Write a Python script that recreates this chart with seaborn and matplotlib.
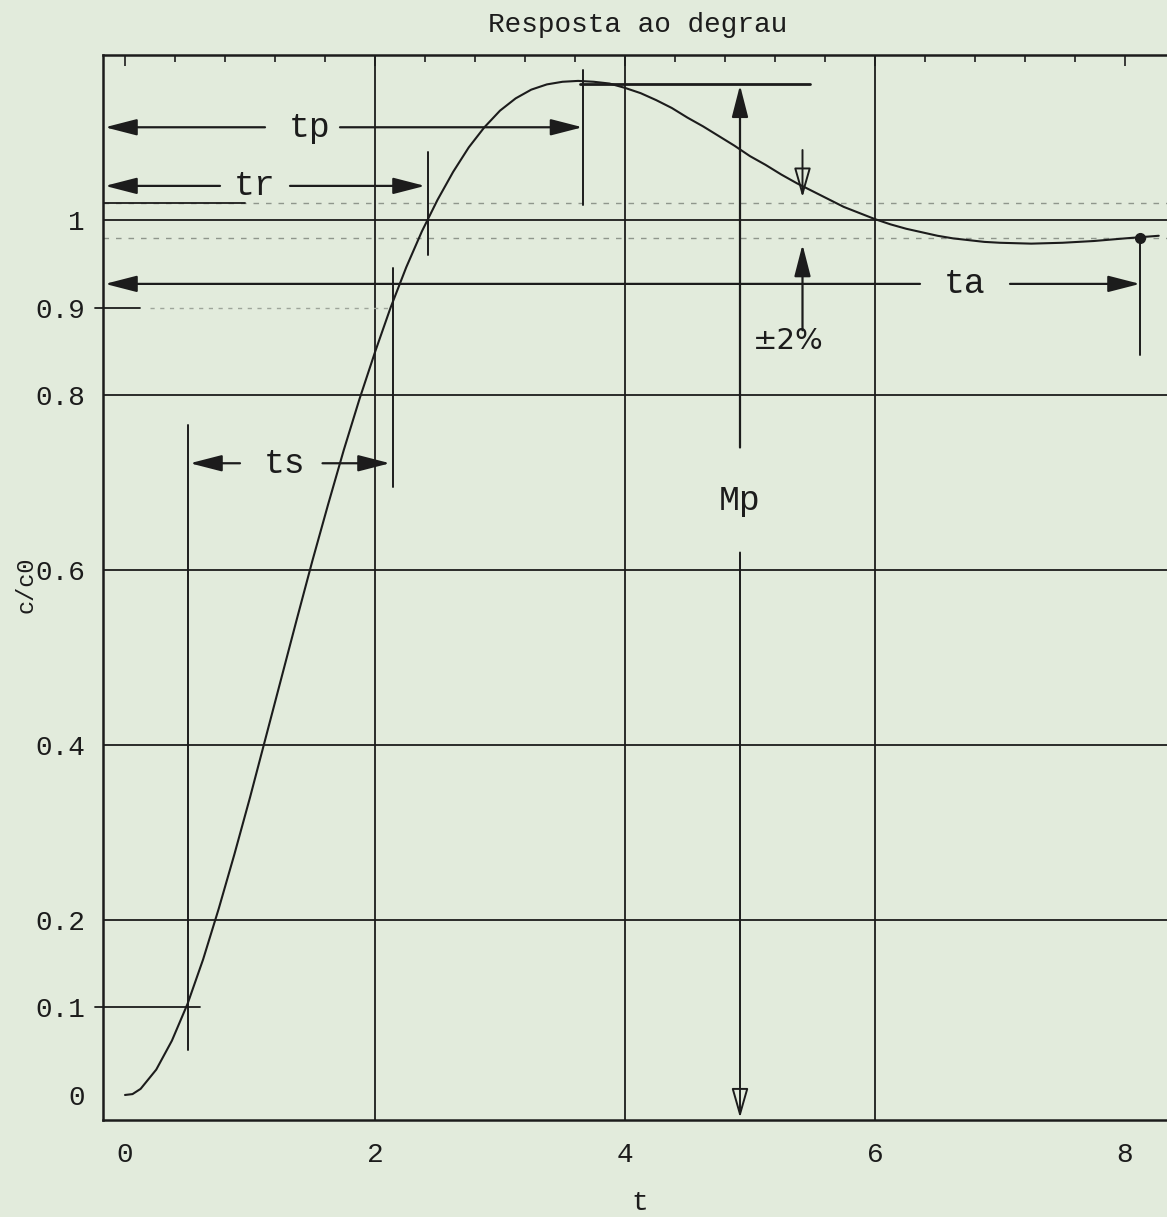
import matplotlib
matplotlib.use("Agg")
import matplotlib.pyplot as plt
from matplotlib.ticker import MultipleLocator
import seaborn as sns
import pandas as pd

# ---- data ----
t_vals = [0.0, 0.06, 0.125, 0.25, 0.375, 0.5, 0.625, 0.75, 0.875, 1.0, 1.125, 1.25,
          1.375, 1.5, 1.625, 1.75, 1.875, 2.0, 2.125, 2.25, 2.375, 2.5, 2.625,
          2.75, 2.875, 3.0, 3.125, 3.25, 3.375, 3.5, 3.625, 3.75, 3.875, 4.0,
          4.125, 4.25, 4.375, 4.5, 4.625, 4.75, 4.875, 5.0, 5.125, 5.25, 5.375,
          5.5, 5.625, 5.75, 5.875, 6.0, 6.125, 6.25, 6.375, 6.5, 6.625, 6.75,
          6.875, 7.0, 7.25, 7.5, 7.75, 8.0, 8.27]
c_vals = [0.0, 0.001, 0.007, 0.029, 0.062, 0.104, 0.155, 0.213, 0.275, 0.340, 0.408, 0.476,
          0.544, 0.611, 0.675, 0.737, 0.795, 0.849, 0.900, 0.946, 0.987, 1.023, 1.055,
          1.083, 1.106, 1.125, 1.139, 1.149, 1.155, 1.158, 1.159, 1.158, 1.156, 1.151,
          1.145, 1.137, 1.128, 1.117, 1.107, 1.096, 1.085, 1.073, 1.063, 1.052, 1.042,
          1.033, 1.024, 1.015, 1.008, 1.001, 0.995, 0.990, 0.986, 0.982, 0.979, 0.977,
          0.975, 0.974, 0.973, 0.974, 0.976, 0.979, 0.982]

x_ticks = [0, 2, 4, 6, 8]
x_tick_labels = ["0", "2", "4", "6", "8"]
y_ticks = [0, 0.1, 0.2, 0.4, 0.6, 0.8, 0.9, 1.0]
y_tick_labels = ["0", "0.1", "0.2", "0.4", "0.6", "0.8", "0.9", "1"]
grid_t = [2, 4, 6]
grid_c = [0.2, 0.4, 0.6, 0.8, 1.0]
band_c = [0.98, 1.02]

# annotation values
t_peak, c_peak = 3.66, 1.156
t_rise = 2.42
t_10, t_90 = 0.5, 2.14
t_settle, c_settle = 8.12, 0.979
t_mp = 4.92
t_band = 5.42
y_tp, y_tr, y_ta, y_ts = 1.106, 1.039, 0.927, 0.722

BG = "#e2ebdc"
INK = "#1c1c1c"

sns.set_theme(style="white")
plt.rcParams["font.family"] = ["Liberation Mono", "DejaVu Sans"]

fig = plt.figure(figsize=(11.67, 12.17), dpi=100, facecolor=BG)
ax = fig.add_axes([103 / 1167, 1 - 1120 / 1217, 1 - 103 / 1167, (1120 - 55) / 1217])
ax.set_facecolor(BG)
ax.set_xlim(-0.176, 8.336)
ax.set_ylim(-0.0286, 1.1886)

# grid lines
for g in grid_t:
    ax.axvline(g, color=INK, lw=1.3, zorder=1)
for g in grid_c:
    ax.axhline(g, color=INK, lw=1.3, zorder=1)
for g in band_c:
    ax.axhline(g, color="#8f968c", lw=1.0, ls=(0, (4, 5)), zorder=1)
ax.plot([-0.176, 0.96], [1.02, 1.02], color=INK, lw=1.3)

# step response curve
df = pd.DataFrame({"t": t_vals, "c": c_vals})
sns.lineplot(data=df, x="t", y="c", ax=ax, color=INK, lw=1.5, zorder=3)

AP = dict(arrowstyle="-|>,head_length=0.7,head_width=0.18", color=INK, lw=1.6,
          mutation_scale=28, shrinkA=0, shrinkB=0)
APO = dict(arrowstyle="-|>,head_length=0.7,head_width=0.2", color=INK, lw=1.4,
           mutation_scale=26, shrinkA=0, shrinkB=0, fc="none")


def arrow(x0, y0, x1, y1, props=AP):
    ax.annotate("", xy=(x1, y1), xytext=(x0, y0), arrowprops=props, zorder=4,
                annotation_clip=False)


def harrow(y, tip_l, seg_l, text, xt, seg_r, tip_r):
    arrow(seg_l, y, tip_l, y)
    arrow(seg_r, y, tip_r, y)
    ax.text(xt, y, text, ha="center", va="center", size=25, color=INK)


harrow(y_tp, -0.16, 1.12, "tp", 1.48, 1.72, t_peak)
harrow(y_tr, -0.16, 0.76, "tr", 1.04, 1.32, 2.40)
harrow(y_ta, -0.16, 6.36, "ta", 6.72, 7.08, t_settle)
harrow(y_ts, 0.52, 0.92, "ts", 1.28, 1.58, t_90 - 0.02)

# vertical markers
vk = dict(color=INK, lw=1.4)
ax.plot([t_peak, t_peak], [1.171, 1.017], **vk)
ax.plot([t_rise, t_rise], [1.078, 0.960], **vk)
ax.plot([t_10, t_10], [0.766, 0.051], **vk)
ax.plot([t_90, t_90], [0.945, 0.695], **vk)
ax.plot([t_settle, t_settle], [c_settle, 0.846], **vk)
ax.plot([3.64, 5.48], [c_peak, c_peak], color=INK, lw=2.0)
ax.plot([t_settle], [c_settle], "o", color=INK, ms=7)

# Mp arrow
arrow(t_mp, 0.74, t_mp, 1.154)
arrow(t_mp, 0.62, t_mp, -0.026, APO)
ax.text(t_mp, 0.68, "Mp", ha="center", va="center", size=25, color=INK)

# +-2% arrows
arrow(t_band, 1.08, t_band, 1.026, APO)
arrow(t_band, 0.874, t_band, 0.972)
ax.text(t_band - 0.11, 0.862, "±2%", ha="center", va="center", size=21,
        color=INK, family="DejaVu Sans")

# hand-drawn marks at 0.1 and 0.9
ax.plot([-0.24, 0.6], [0.1, 0.1], color=INK, lw=1.3, clip_on=False)
ax.plot([-0.24, 0.12], [0.9, 0.9], color=INK, lw=1.3, clip_on=False)
ax.plot([0.2, 2.1], [0.9, 0.9], color="#9ea59a", lw=1.0, ls=(0, (3, 4)))

# axes styling
ax.set_xticks(x_ticks)
ax.set_xticklabels(x_tick_labels)
ax.set_yticks(y_ticks)
ax.set_yticklabels(y_tick_labels)
ax.xaxis.set_minor_locator(MultipleLocator(0.4))
ax.yaxis.set_minor_locator(MultipleLocator(0.04))
ax.tick_params(which="both", direction="in", top=True, right=False, color=INK, width=1.2)
ax.tick_params(which="major", length=8)
ax.tick_params(which="minor", length=5)
ax.tick_params(axis="x", which="major", labelsize=20, pad=16, labelcolor=INK)
ax.tick_params(axis="y", which="major", labelsize=20, pad=13, labelcolor=INK)
ax.set_xlabel("")
ax.set_ylabel("")
for s in ["left", "top", "bottom"]:
    ax.spines[s].set_color(INK)
    ax.spines[s].set_linewidth(1.8)
ax.spines["right"].set_visible(False)

fig.text(638 / 1167, 1 - 25 / 1217, "Resposta ao degrau", ha="center", va="center",
         size=20, color=INK)
fig.text(640 / 1167, 1 - 1203 / 1217, "t", ha="center", va="center", size=20, color=INK)
fig.text(26 / 1167, 1 - 585 / 1217, "c/c0", ha="center", va="center", size=17,
         rotation=90, color=INK)

fig.savefig("out.png", dpi=100, facecolor=BG)
